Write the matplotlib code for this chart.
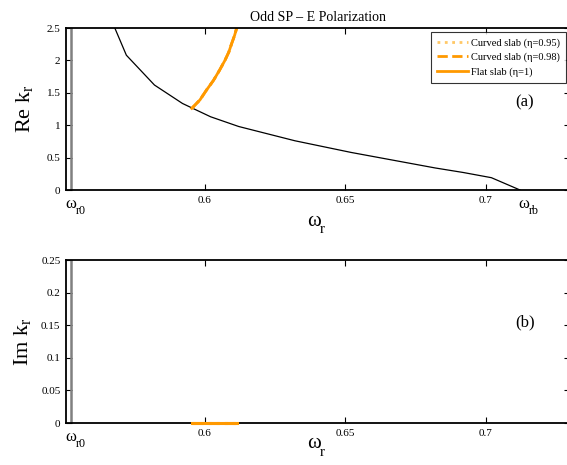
import numpy as np
import matplotlib
matplotlib.use("Agg")
import matplotlib.pyplot as plt
from matplotlib.transforms import blended_transform_factory, offset_copy

plt.rcParams['font.family'] = ['Liberation Serif', 'DejaVu Serif']
plt.rcParams['mathtext.fontset'] = 'custom'
plt.rcParams['mathtext.rm'] = 'Liberation Serif'
plt.rcParams['mathtext.it'] = 'Liberation Serif:italic'

# black curve (light line), Re k_r
w_light = [0.562, 0.572, 0.582, 0.592, 0.602, 0.612, 0.622, 0.632, 0.642,
           0.652, 0.662, 0.672, 0.682, 0.692, 0.702, 0.7122]
k_light = [3.10, 2.08, 1.62, 1.335, 1.13, 0.98, 0.87, 0.76, 0.67,
           0.58, 0.50, 0.42, 0.34, 0.27, 0.19, 0.0]

# surface plasmon branch (all three slabs overlap)
w_sp = [0.5953, 0.5982, 0.6005, 0.603, 0.6052, 0.6071, 0.6085, 0.6095, 0.6105, 0.6113]
re_sp = [1.26, 1.39, 1.54, 1.69, 1.85, 2.0, 2.13, 2.26, 2.38, 2.5]
im_sp = [0.0, 0.0, 0.0, 0.0, 0.0, 0.0, 0.0, 0.0, 0.0, 0.0]

w_r0 = 0.5522
w_rb = 0.7122
xticks = [0.6, 0.65, 0.7]
xticklabels = ['0.6', '0.65', '0.7']

orange = '#FF9900'
light_orange = '#FFC866'


def omega(ax, x, y, sub, tr, size=12):
    # omega with a low-set subscript, like the original figure
    ax.text(x, y, u'\u03c9', transform=tr, fontsize=size, ha='left', va='top')
    t2 = offset_copy(tr, fig=ax.figure, x=size * 0.62, y=-size * 0.55, units='points')
    ax.text(x, y, sub, transform=t2, fontsize=size * 0.72, ha='left', va='top')


fig = plt.figure(figsize=(5.67, 4.65), dpi=100)
ax1 = fig.add_axes([66/567, 1-190/465, 504/567, 162/465])
ax2 = fig.add_axes([66/567, 1-423/465, 504/567, 163/465])

for ax in (ax1, ax2):
    ax.set_xlim(0.5505, 0.730)
    ax.axvline(w_r0, color='0.5', lw=1.8)
    ax.set_xticks(xticks)
    ax.set_xticklabels(xticklabels)
    ax.tick_params(direction='in', top=True, right=True, length=4, width=0.8,
                   labelsize=8, pad=4)
    for s in ax.spines.values():
        s.set_linewidth(1.3)
    tr = blended_transform_factory(ax.transData, ax.transAxes)
    omega(ax, w_r0 - 0.0019, -0.035, 'r0', tr)

# panel (a)
ax1.plot(w_light, k_light, color='black', lw=0.9)
ax1.plot(w_sp, re_sp, color=light_orange, lw=2, ls=':', label=u'Curved slab (\u03b7=0.95)')
ax1.plot(w_sp, re_sp, color=orange, lw=2, ls='--', label=u'Curved slab (\u03b7=0.98)')
ax1.plot(w_sp, re_sp, color=orange, lw=2, ls='-', label=u'Flat slab (\u03b7=1)')
ax1.set_ylim(0, 2.5)
ax1.set_yticks([0, 0.5, 1, 1.5, 2, 2.5])
ax1.set_yticklabels(['0', '0.5', '1', '1.5', '2', '2.5'])
ax1.set_ylabel(r'$\mathrm{Re\ k_r}$', fontsize=16, labelpad=8)
ax1.set_title(u'Odd SP \u2013 E Polarization', fontsize=10, pad=5)
tr1 = blended_transform_factory(ax1.transData, ax1.transAxes)
omega(ax1, w_rb - 0.0006, -0.035, 'rb', tr1)
omega(ax1, 0.6362, -0.135, 'r', tr1, size=15)
ax1.text(0.7105, 0.54, '(a)', transform=tr1, fontsize=12, ha='left', va='center')
leg = ax1.legend(loc='upper right', bbox_to_anchor=(0.992, 0.975), fontsize=7.5,
                 frameon=True, fancybox=False, edgecolor='black', handlelength=2.9,
                 borderpad=0.6, labelspacing=0.45, handletextpad=0.3, borderaxespad=0)
leg.get_frame().set_linewidth(0.8)

# panel (b)
for ls, c in ((':', light_orange), ('--', orange), ('-', orange)):
    ax2.plot(w_sp, im_sp, color=c, lw=2.2, ls=ls, clip_on=False, zorder=4)
ax2.set_ylim(0, 0.25)
ax2.set_yticks([0, 0.05, 0.1, 0.15, 0.2, 0.25])
ax2.set_yticklabels(['0', '0.05', '0.1', '0.15', '0.2', '0.25'])
ax2.set_ylabel(r'$\mathrm{Im\ k_r}$', fontsize=16, labelpad=6)
tr2 = blended_transform_factory(ax2.transData, ax2.transAxes)
omega(ax2, 0.6362, -0.07, 'r', tr2, size=15)
ax2.text(0.7105, 0.62, '(b)', transform=tr2, fontsize=12, ha='left', va='center')

fig.savefig('out.png', dpi=100)
